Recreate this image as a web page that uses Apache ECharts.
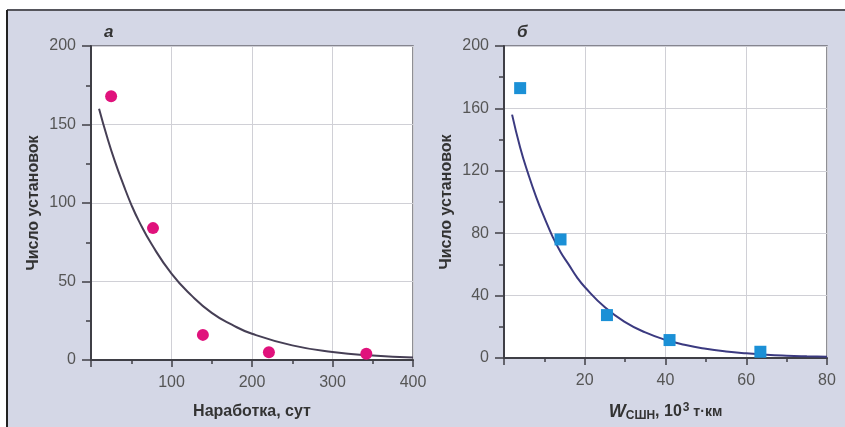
<!DOCTYPE html>
<html>
<head>
<meta charset="utf-8">
<script src="https://cdn.jsdelivr.net/npm/echarts@6/dist/echarts.min.js"></script>
<style>
  html, body { margin: 0; padding: 0; background: #ffffff; }
  #chart { width: 845px; height: 427px; }
</style>
</head>
<body>
<div id="chart"></div>
<script>
// Panel а: failures vs. operating time (days)
const obsA_x = [25, 77, 139, 221, 342];
const obsA_y = [168, 84, 16, 5, 4];
const fitA_x = [10, 20, 30, 40, 50, 60, 75, 100, 125, 150, 175, 200, 250, 300, 350, 400];
const fitA_y = [160, 142, 126, 112, 99, 88, 74, 55, 41, 30, 22.5, 16.7, 9.3, 5.1, 2.8, 1.6];

// Panel б: failures vs. work done by the rod string (10^3 t·km)
const obsB_x = [4, 14, 25.5, 41, 63.5];
const obsB_y = [173, 76, 27.5, 11.5, 4];
const fitB_x = [2, 4, 6, 8, 10, 12, 14, 16, 18, 20, 25, 30, 35, 40, 45, 50, 55, 60, 65, 70, 75, 80];
const fitB_y = [156, 135, 118, 103, 90, 78, 68, 60, 52, 45.5, 32.5, 23, 16.4, 11.7, 8.3, 5.9, 4.2, 3.0, 2.1, 1.5, 1.1, 0.8];

// Axis settings
const xTicksA = { min: 0, max: 400, interval: 100 };
const xTicksB = { min: 0, max: 80, interval: 20 };
const yTicksA = { min: 0, max: 200, interval: 50 };
const yTicksB = { min: 0, max: 200, interval: 40 };

const yName = 'Число установок';
const xNameA = 'Наработка, сут';

const zip = (xs, ys) => xs.map((x, i) => [x, ys[i]]);

const labelFont = "'Liberation Sans Narrow', 'Liberation Sans', Arial, sans-serif";
const boldFont = "'Liberation Sans', Arial, sans-serif";
const axisDark = '#3f3f46';

function xAxisCfg(idx, t, extra) {
  return Object.assign({
    type: 'value', gridIndex: idx,
    min: t.min, max: t.max, interval: t.interval,
    axisLine: { show: true, onZero: false, lineStyle: { color: axisDark, width: 2 } },
    axisTick: { show: true, length: 7, lineStyle: { color: axisDark, width: 1.5 } },
    minorTick: { show: true, splitNumber: 2, length: 4, lineStyle: { color: axisDark, width: 1.5 } },
    splitLine: { show: true, lineStyle: { color: '#d0d0d6', width: 1 } },
    axisLabel: {
      margin: 15, color: '#555', fontSize: 16, fontFamily: labelFont,
      formatter: v => (v === 0 ? '' : String(v))
    },
    nameLocation: 'middle', nameGap: 44,
    nameTextStyle: { color: '#333', fontSize: 16, fontWeight: 'bold', fontFamily: boldFont }
  }, extra || {});
}

function yAxisCfg(idx, t) {
  return {
    type: 'value', gridIndex: idx,
    min: t.min, max: t.max, interval: t.interval,
    axisLine: { show: true, onZero: false, lineStyle: { color: axisDark, width: 2 } },
    axisTick: { show: true, length: 9, lineStyle: { color: axisDark, width: 1.5 } },
    minorTick: { show: true, splitNumber: 2, length: 5, lineStyle: { color: axisDark, width: 1.5 } },
    splitLine: { show: true, lineStyle: { color: '#d0d0d6', width: 1 } },
    axisLabel: { margin: 15, color: '#555', fontSize: 16, fontFamily: labelFont },
    name: yName, nameLocation: 'middle', nameGap: 49, nameRotate: 90,
    nameTextStyle: { color: '#333', fontSize: 16, fontWeight: 'bold', fontFamily: boldFont }
  };
}

const chart = echarts.init(document.getElementById('chart'), null, { renderer: 'canvas' });

chart.setOption({
  animation: false,
  graphic: [
    { type: 'rect', z: -100, silent: true,
      shape: { x: 7, y: 10, width: 838, height: 417 },
      style: { fill: '#d4d7e6' } },
    { type: 'line', z: -99, silent: true,
      shape: { x1: 7, y1: 10, x2: 845, y2: 10 },
      style: { stroke: '#55555c', lineWidth: 2 } },
    { type: 'line', z: -99, silent: true,
      shape: { x1: 7, y1: 10, x2: 7, y2: 427 },
      style: { stroke: '#222', lineWidth: 2 } },
    { type: 'text', left: 104, top: 24,
      style: { text: 'а', fontSize: 17, fontWeight: 'bold', fontStyle: 'italic', fill: '#333', fontFamily: boldFont } },
    { type: 'text', left: 517, top: 24,
      style: { text: 'б', fontSize: 17, fontWeight: 'bold', fontStyle: 'italic', fill: '#333', fontFamily: boldFont } }
  ],
  grid: [
    { left: 91, right: 432, top: 46, bottom: 67, show: true, backgroundColor: '#ffffff',
      borderColor: '#6b6b73', borderWidth: 1.5 },
    { left: 504, right: 18, top: 46, bottom: 67, show: true, backgroundColor: '#ffffff',
      borderColor: '#6b6b73', borderWidth: 1.5 }
  ],
  xAxis: [
    xAxisCfg(0, xTicksA, { name: xNameA }),
    xAxisCfg(1, xTicksB, {
      name: '{w|W}{sub|СШН}{t|, 10}{sup|3}{u| т·км}',
      nameTextStyle: {
        color: '#333', fontSize: 16, fontWeight: 'bold', fontFamily: boldFont,
        rich: {
          w: { fontSize: 18, fontWeight: 'bold', fontStyle: 'italic', color: '#333', fontFamily: boldFont },
          sub: { fontSize: 12, fontWeight: 'bold', color: '#333', fontFamily: boldFont, padding: [8, 0, 0, 0] },
          t: { fontSize: 16, fontWeight: 'bold', color: '#333', fontFamily: boldFont },
          sup: { fontSize: 12, fontWeight: 'bold', color: '#333', fontFamily: boldFont, padding: [0, 0, 8, 1] },
          u: { fontSize: 14, fontWeight: 'bold', color: '#333', fontFamily: boldFont }
        }
      }
    })
  ],
  yAxis: [yAxisCfg(0, yTicksA), yAxisCfg(1, yTicksB)],
  series: [
    { type: 'line', xAxisIndex: 0, yAxisIndex: 0, data: zip(fitA_x, fitA_y),
      smooth: true, showSymbol: false, symbol: 'none',
      lineStyle: { color: '#463f55', width: 2 }, z: 2 },
    { type: 'scatter', xAxisIndex: 0, yAxisIndex: 0, data: zip(obsA_x, obsA_y),
      symbol: 'circle', symbolSize: 12, itemStyle: { color: '#e0127c', opacity: 1 }, z: 3 },
    { type: 'line', xAxisIndex: 1, yAxisIndex: 1, data: zip(fitB_x, fitB_y),
      smooth: true, showSymbol: false, symbol: 'none',
      lineStyle: { color: '#3b3a80', width: 2 }, z: 2 },
    { type: 'scatter', xAxisIndex: 1, yAxisIndex: 1, data: zip(obsB_x, obsB_y),
      symbol: 'rect', symbolSize: 12, itemStyle: { color: '#1b90d6', opacity: 1 }, z: 3 }
  ]
});
</script>
</body>
</html>
